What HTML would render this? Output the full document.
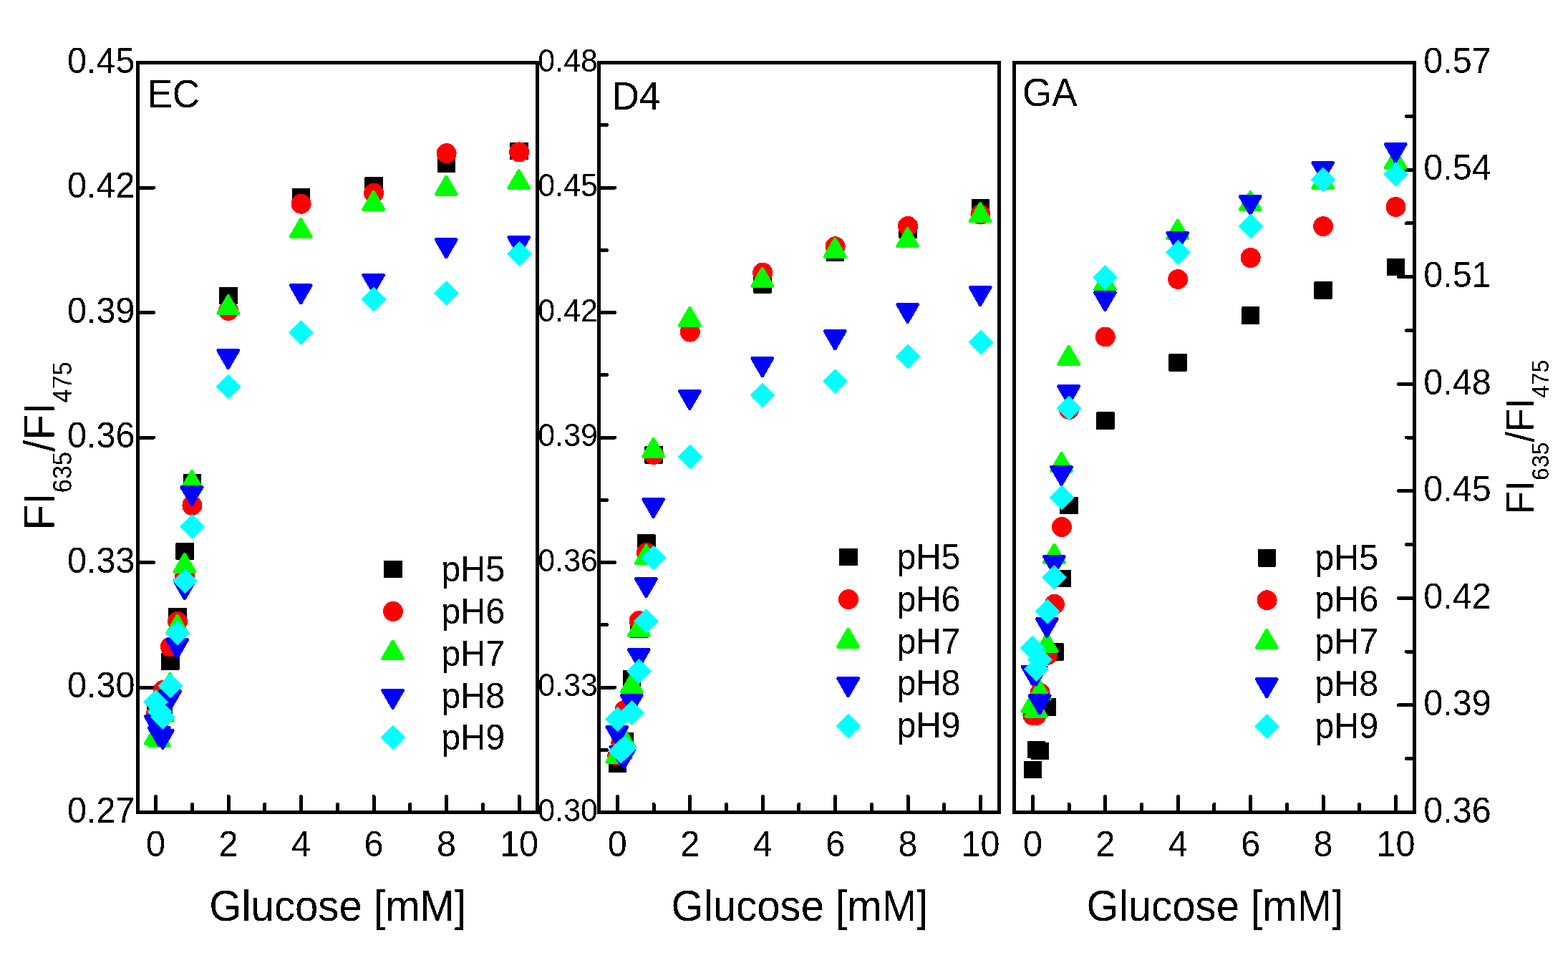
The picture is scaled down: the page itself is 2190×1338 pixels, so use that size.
<!DOCTYPE html><html><head><meta charset="utf-8"><title>Glucose response EC D4 GA</title>
<style>html,body{margin:0;padding:0;background:#fff;}svg{display:block;}text{font-family:'Liberation Sans', Arial, sans-serif;fill:#000;}</style></head><body>
<svg width="2190" height="1338" viewBox="0 0 2190 1338" shape-rendering="crispEdges">
<rect width="2190" height="1338" fill="#fff"/>
<g><path d="M217.6 1134.5V1112.5M268.35 1134.5V1123.5M319.1 1134.5V1112.5M369.85 1134.5V1123.5M420.6 1134.5V1112.5M471.35 1134.5V1123.5M522.1 1134.5V1112.5M572.85 1134.5V1123.5M623.6 1134.5V1112.5M674.35 1134.5V1123.5M725.1 1134.5V1112.5M192.5 1134.5H214.5M192.5 960H214.5M192.5 785.5H214.5M192.5 611H214.5M192.5 436.5H214.5M192.5 262H214.5M192.5 87.5H214.5" stroke="#000" stroke-width="5" stroke-linecap="round" fill="none"/><rect x="192.5" y="87.5" width="558" height="1047" fill="none" stroke="#000" stroke-width="5"/><rect x="204.8" y="984.8" width="25.6" height="24.4" rx="1.2" fill="#000000"/><rect x="209.87" y="982.8" width="25.6" height="24.4" rx="1.2" fill="#000000"/><rect x="214.95" y="977.8" width="25.6" height="24.4" rx="1.2" fill="#000000"/><rect x="225.1" y="911.5" width="25.6" height="24.4" rx="1.2" fill="#000000"/><rect x="235.25" y="848.8" width="25.6" height="24.4" rx="1.2" fill="#000000"/><rect x="245.4" y="757.8" width="25.6" height="24.4" rx="1.2" fill="#000000"/><rect x="255.55" y="661.8" width="25.6" height="24.4" rx="1.2" fill="#000000"/><rect x="306.3" y="400.8" width="25.6" height="24.4" rx="1.2" fill="#000000"/><rect x="407.8" y="262.6" width="25.6" height="24.4" rx="1.2" fill="#000000"/><rect x="509.3" y="247.1" width="25.6" height="24.4" rx="1.2" fill="#000000"/><rect x="610.8" y="216.4" width="25.6" height="24.4" rx="1.2" fill="#000000"/><rect x="712.3" y="198.8" width="25.6" height="24.4" rx="1.2" fill="#000000"/><circle cx="217.6" cy="998" r="14" fill="#ff0000"/><circle cx="222.67" cy="1006" r="14" fill="#ff0000"/><circle cx="227.75" cy="964" r="14" fill="#ff0000"/><circle cx="237.9" cy="903.5" r="14" fill="#ff0000"/><circle cx="248.05" cy="867.9" r="14" fill="#ff0000"/><circle cx="258.2" cy="805" r="14" fill="#ff0000"/><circle cx="268.35" cy="705.9" r="14" fill="#ff0000"/><circle cx="319.1" cy="433.8" r="14" fill="#ff0000"/><circle cx="420.6" cy="284.7" r="14" fill="#ff0000"/><circle cx="522.1" cy="269.6" r="14" fill="#ff0000"/><circle cx="623.6" cy="214.2" r="14" fill="#ff0000"/><circle cx="725.1" cy="212.4" r="14" fill="#ff0000"/><polygon points="217.2,1012.9 232.44,1039.3 201.96,1039.3" fill="#00ff00" stroke="#00ff00" stroke-width="3.2" stroke-linejoin="bevel"/><polygon points="222.27,1015.9 237.52,1042.3 207.03,1042.3" fill="#00ff00" stroke="#00ff00" stroke-width="3.2" stroke-linejoin="bevel"/><polygon points="227.35,980.9 242.59,1007.3 212.11,1007.3" fill="#00ff00" stroke="#00ff00" stroke-width="3.2" stroke-linejoin="bevel"/><polygon points="237.5,939.8 252.74,966.2 222.26,966.2" fill="#00ff00" stroke="#00ff00" stroke-width="3.2" stroke-linejoin="bevel"/><polygon points="247.65,858.7 262.89,885.1 232.41,885.1" fill="#00ff00" stroke="#00ff00" stroke-width="3.2" stroke-linejoin="bevel"/><polygon points="257.8,772.8 273.04,799.2 242.56,799.2" fill="#00ff00" stroke="#00ff00" stroke-width="3.2" stroke-linejoin="bevel"/><polygon points="267.95,657 283.19,683.4 252.71,683.4" fill="#00ff00" stroke="#00ff00" stroke-width="3.2" stroke-linejoin="bevel"/><polygon points="318.7,412.1 333.94,438.5 303.46,438.5" fill="#00ff00" stroke="#00ff00" stroke-width="3.2" stroke-linejoin="bevel"/><polygon points="420.2,304.8 435.44,331.2 404.96,331.2" fill="#00ff00" stroke="#00ff00" stroke-width="3.2" stroke-linejoin="bevel"/><polygon points="521.7,266.7 536.94,293.1 506.46,293.1" fill="#00ff00" stroke="#00ff00" stroke-width="3.2" stroke-linejoin="bevel"/><polygon points="623.2,245.6 638.44,272 607.96,272" fill="#00ff00" stroke="#00ff00" stroke-width="3.2" stroke-linejoin="bevel"/><polygon points="724.7,237 739.94,263.4 709.46,263.4" fill="#00ff00" stroke="#00ff00" stroke-width="3.2" stroke-linejoin="bevel"/><polygon points="217.2,1026.25 232.44,999.85 201.96,999.85" fill="#0000ff" stroke="#0000ff" stroke-width="3.2" stroke-linejoin="bevel"/><polygon points="222.27,1042.15 237.52,1015.75 207.03,1015.75" fill="#0000ff" stroke="#0000ff" stroke-width="3.2" stroke-linejoin="bevel"/><polygon points="227.35,1045.95 242.59,1019.55 212.11,1019.55" fill="#0000ff" stroke="#0000ff" stroke-width="3.2" stroke-linejoin="bevel"/><polygon points="237.5,991.45 252.74,965.05 222.26,965.05" fill="#0000ff" stroke="#0000ff" stroke-width="3.2" stroke-linejoin="bevel"/><polygon points="247.65,919.25 262.89,892.85 232.41,892.85" fill="#0000ff" stroke="#0000ff" stroke-width="3.2" stroke-linejoin="bevel"/><polygon points="257.8,837.25 273.04,810.85 242.56,810.85" fill="#0000ff" stroke="#0000ff" stroke-width="3.2" stroke-linejoin="bevel"/><polygon points="267.95,706.15 283.19,679.75 252.71,679.75" fill="#0000ff" stroke="#0000ff" stroke-width="3.2" stroke-linejoin="bevel"/><polygon points="318.7,515.25 333.94,488.85 303.46,488.85" fill="#0000ff" stroke="#0000ff" stroke-width="3.2" stroke-linejoin="bevel"/><polygon points="420.2,424.45 435.44,398.05 404.96,398.05" fill="#0000ff" stroke="#0000ff" stroke-width="3.2" stroke-linejoin="bevel"/><polygon points="521.7,409.75 536.94,383.35 506.46,383.35" fill="#0000ff" stroke="#0000ff" stroke-width="3.2" stroke-linejoin="bevel"/><polygon points="623.2,360.45 638.44,334.05 607.96,334.05" fill="#0000ff" stroke="#0000ff" stroke-width="3.2" stroke-linejoin="bevel"/><polygon points="724.7,357.15 739.94,330.75 709.46,330.75" fill="#0000ff" stroke="#0000ff" stroke-width="3.2" stroke-linejoin="bevel"/><polygon points="217.6,962.7 235.1,980.2 217.6,997.7 200.1,980.2" fill="#00ffff"/><polygon points="222.67,976.5 240.17,994 222.67,1011.5 205.17,994" fill="#00ffff"/><polygon points="227.75,984 245.25,1001.5 227.75,1019 210.25,1001.5" fill="#00ffff"/><polygon points="237.9,940.9 255.4,958.4 237.9,975.9 220.4,958.4" fill="#00ffff"/><polygon points="248.05,866.4 265.55,883.9 248.05,901.4 230.55,883.9" fill="#00ffff"/><polygon points="258.2,794.1 275.7,811.6 258.2,829.1 240.7,811.6" fill="#00ffff"/><polygon points="268.35,718 285.85,735.5 268.35,753 250.85,735.5" fill="#00ffff"/><polygon points="319.1,522.2 336.6,539.7 319.1,557.2 301.6,539.7" fill="#00ffff"/><polygon points="420.6,446.8 438.1,464.3 420.6,481.8 403.1,464.3" fill="#00ffff"/><polygon points="522.1,400.4 539.6,417.9 522.1,435.4 504.6,417.9" fill="#00ffff"/><polygon points="623.6,392 641.1,409.5 623.6,427 606.1,409.5" fill="#00ffff"/><polygon points="725.1,337.1 742.6,354.6 725.1,372.1 707.6,354.6" fill="#00ffff"/></g>
<g><path d="M862.3 1134.5V1112.5M913.02 1134.5V1123.5M963.74 1134.5V1112.5M1014.46 1134.5V1123.5M1065.18 1134.5V1112.5M1115.9 1134.5V1123.5M1166.62 1134.5V1112.5M1217.34 1134.5V1123.5M1268.06 1134.5V1112.5M1318.78 1134.5V1123.5M1369.5 1134.5V1112.5M836.5 1134.5H858.5M836.5 1047.25H847.5M836.5 960H858.5M836.5 872.75H847.5M836.5 785.5H858.5M836.5 698.25H847.5M836.5 611H858.5M836.5 523.75H847.5M836.5 436.5H858.5M836.5 349.25H847.5M836.5 262H858.5M836.5 174.75H847.5M836.5 87.5H858.5" stroke="#000" stroke-width="5" stroke-linecap="round" fill="none"/><rect x="836.5" y="87.5" width="559" height="1047" fill="none" stroke="#000" stroke-width="5"/><rect x="849.5" y="1054.4" width="25.6" height="24.4" rx="1.2" fill="#000000"/><rect x="854.57" y="1029.8" width="25.6" height="24.4" rx="1.2" fill="#000000"/><rect x="859.64" y="1023" width="25.6" height="24.4" rx="1.2" fill="#000000"/><rect x="869.79" y="935.5" width="25.6" height="24.4" rx="1.2" fill="#000000"/><rect x="879.93" y="866.5" width="25.6" height="24.4" rx="1.2" fill="#000000"/><rect x="890.08" y="745.8" width="25.6" height="24.4" rx="1.2" fill="#000000"/><rect x="900.22" y="623.2" width="25.6" height="24.4" rx="1.2" fill="#000000"/><rect x="1052.38" y="385.3" width="25.6" height="24.4" rx="1.2" fill="#000000"/><rect x="1153.82" y="340.4" width="25.6" height="24.4" rx="1.2" fill="#000000"/><rect x="1255.26" y="308.4" width="25.6" height="24.4" rx="1.2" fill="#000000"/><rect x="1356.7" y="277.7" width="25.6" height="24.4" rx="1.2" fill="#000000"/><circle cx="862.3" cy="1055.5" r="14" fill="#ff0000"/><circle cx="867.37" cy="1037" r="14" fill="#ff0000"/><circle cx="872.44" cy="991.7" r="14" fill="#ff0000"/><circle cx="892.73" cy="867" r="14" fill="#ff0000"/><circle cx="902.88" cy="772" r="14" fill="#ff0000"/><circle cx="913.02" cy="634.8" r="14" fill="#ff0000"/><circle cx="963.74" cy="463.6" r="14" fill="#ff0000"/><circle cx="1065.18" cy="380.7" r="14" fill="#ff0000"/><circle cx="1166.62" cy="344.3" r="14" fill="#ff0000"/><circle cx="1268.06" cy="315.9" r="14" fill="#ff0000"/><circle cx="1369.5" cy="299.5" r="14" fill="#ff0000"/><polygon points="861.9,1038.7 877.14,1065.1 846.66,1065.1" fill="#00ff00" stroke="#00ff00" stroke-width="3.2" stroke-linejoin="bevel"/><polygon points="866.97,1032.9 882.21,1059.3 851.73,1059.3" fill="#00ff00" stroke="#00ff00" stroke-width="3.2" stroke-linejoin="bevel"/><polygon points="872.04,1017.7 887.29,1044.1 856.8,1044.1" fill="#00ff00" stroke="#00ff00" stroke-width="3.2" stroke-linejoin="bevel"/><polygon points="882.19,940.8 897.43,967.2 866.95,967.2" fill="#00ff00" stroke="#00ff00" stroke-width="3.2" stroke-linejoin="bevel"/><polygon points="892.33,861.8 907.57,888.2 877.09,888.2" fill="#00ff00" stroke="#00ff00" stroke-width="3.2" stroke-linejoin="bevel"/><polygon points="902.48,760.9 917.72,787.3 887.23,787.3" fill="#00ff00" stroke="#00ff00" stroke-width="3.2" stroke-linejoin="bevel"/><polygon points="912.62,611.7 927.86,638.1 897.38,638.1" fill="#00ff00" stroke="#00ff00" stroke-width="3.2" stroke-linejoin="bevel"/><polygon points="963.34,428.8 978.58,455.2 948.1,455.2" fill="#00ff00" stroke="#00ff00" stroke-width="3.2" stroke-linejoin="bevel"/><polygon points="1064.78,373.8 1080.02,400.2 1049.54,400.2" fill="#00ff00" stroke="#00ff00" stroke-width="3.2" stroke-linejoin="bevel"/><polygon points="1166.22,332.5 1181.46,358.9 1150.98,358.9" fill="#00ff00" stroke="#00ff00" stroke-width="3.2" stroke-linejoin="bevel"/><polygon points="1267.66,318.2 1282.9,344.6 1252.42,344.6" fill="#00ff00" stroke="#00ff00" stroke-width="3.2" stroke-linejoin="bevel"/><polygon points="1369.1,283.2 1384.34,309.6 1353.86,309.6" fill="#00ff00" stroke="#00ff00" stroke-width="3.2" stroke-linejoin="bevel"/><polygon points="861.9,1041.05 877.14,1014.65 846.66,1014.65" fill="#0000ff" stroke="#0000ff" stroke-width="3.2" stroke-linejoin="bevel"/><polygon points="866.97,1068.95 882.21,1042.55 851.73,1042.55" fill="#0000ff" stroke="#0000ff" stroke-width="3.2" stroke-linejoin="bevel"/><polygon points="872.04,1072.75 887.29,1046.35 856.8,1046.35" fill="#0000ff" stroke="#0000ff" stroke-width="3.2" stroke-linejoin="bevel"/><polygon points="882.19,996.85 897.43,970.45 866.95,970.45" fill="#0000ff" stroke="#0000ff" stroke-width="3.2" stroke-linejoin="bevel"/><polygon points="892.33,933.05 907.57,906.65 877.09,906.65" fill="#0000ff" stroke="#0000ff" stroke-width="3.2" stroke-linejoin="bevel"/><polygon points="902.48,834.25 917.72,807.85 887.23,807.85" fill="#0000ff" stroke="#0000ff" stroke-width="3.2" stroke-linejoin="bevel"/><polygon points="912.62,723.05 927.86,696.65 897.38,696.65" fill="#0000ff" stroke="#0000ff" stroke-width="3.2" stroke-linejoin="bevel"/><polygon points="963.34,571.95 978.58,545.55 948.1,545.55" fill="#0000ff" stroke="#0000ff" stroke-width="3.2" stroke-linejoin="bevel"/><polygon points="1064.78,526.35 1080.02,499.95 1049.54,499.95" fill="#0000ff" stroke="#0000ff" stroke-width="3.2" stroke-linejoin="bevel"/><polygon points="1166.22,488.35 1181.46,461.95 1150.98,461.95" fill="#0000ff" stroke="#0000ff" stroke-width="3.2" stroke-linejoin="bevel"/><polygon points="1267.66,450.95 1282.9,424.55 1252.42,424.55" fill="#0000ff" stroke="#0000ff" stroke-width="3.2" stroke-linejoin="bevel"/><polygon points="1369.1,427.05 1384.34,400.65 1353.86,400.65" fill="#0000ff" stroke="#0000ff" stroke-width="3.2" stroke-linejoin="bevel"/><polygon points="862.3,987.1 879.8,1004.6 862.3,1022.1 844.8,1004.6" fill="#00ffff"/><polygon points="867.37,1031.6 884.87,1049.1 867.37,1066.6 849.87,1049.1" fill="#00ffff"/><polygon points="872.44,1026.9 889.94,1044.4 872.44,1061.9 854.94,1044.4" fill="#00ffff"/><polygon points="882.59,978 900.09,995.5 882.59,1013 865.09,995.5" fill="#00ffff"/><polygon points="892.73,919.9 910.23,937.4 892.73,954.9 875.23,937.4" fill="#00ffff"/><polygon points="902.88,849.9 920.38,867.4 902.88,884.9 885.38,867.4" fill="#00ffff"/><polygon points="913.02,761.4 930.52,778.9 913.02,796.4 895.52,778.9" fill="#00ffff"/><polygon points="963.74,620.5 981.24,638 963.74,655.5 946.24,638" fill="#00ffff"/><polygon points="1065.18,534.7 1082.68,552.2 1065.18,569.7 1047.68,552.2" fill="#00ffff"/><polygon points="1166.62,515 1184.12,532.5 1166.62,550 1149.12,532.5" fill="#00ffff"/><polygon points="1268.06,480.9 1285.56,498.4 1268.06,515.9 1250.56,498.4" fill="#00ffff"/><polygon points="1369.5,460.5 1387,478 1369.5,495.5 1352,478" fill="#00ffff"/></g>
<g><path d="M1442.4 1134.5V1112.5M1493.11 1134.5V1123.5M1543.82 1134.5V1112.5M1594.53 1134.5V1123.5M1645.24 1134.5V1112.5M1695.95 1134.5V1123.5M1746.66 1134.5V1112.5M1797.37 1134.5V1123.5M1848.08 1134.5V1112.5M1898.79 1134.5V1123.5M1949.5 1134.5V1112.5M1975.5 1134.5H1953.5M1975.5 1059.71H1964.5M1975.5 984.93H1953.5M1975.5 910.14H1964.5M1975.5 835.36H1953.5M1975.5 760.57H1964.5M1975.5 685.79H1953.5M1975.5 611H1964.5M1975.5 536.21H1953.5M1975.5 461.43H1964.5M1975.5 386.64H1953.5M1975.5 311.86H1964.5M1975.5 237.07H1953.5M1975.5 162.29H1964.5M1975.5 87.5H1953.5" stroke="#000" stroke-width="5" stroke-linecap="round" fill="none"/><rect x="1416.5" y="87.5" width="559" height="1047" fill="none" stroke="#000" stroke-width="5"/><rect x="1429.6" y="1062.5" width="25.6" height="24.4" rx="1.2" fill="#000000"/><rect x="1434.67" y="1035" width="25.6" height="24.4" rx="1.2" fill="#000000"/><rect x="1439.74" y="1036.6" width="25.6" height="24.4" rx="1.2" fill="#000000"/><rect x="1449.88" y="975.2" width="25.6" height="24.4" rx="1.2" fill="#000000"/><rect x="1460.03" y="898.3" width="25.6" height="24.4" rx="1.2" fill="#000000"/><rect x="1470.17" y="795.8" width="25.6" height="24.4" rx="1.2" fill="#000000"/><rect x="1480.31" y="693.8" width="25.6" height="24.4" rx="1.2" fill="#000000"/><rect x="1531.02" y="575.4" width="25.6" height="24.4" rx="1.2" fill="#000000"/><rect x="1632.44" y="494.2" width="25.6" height="24.4" rx="1.2" fill="#000000"/><rect x="1733.86" y="428.4" width="25.6" height="24.4" rx="1.2" fill="#000000"/><rect x="1835.28" y="393.1" width="25.6" height="24.4" rx="1.2" fill="#000000"/><rect x="1936.7" y="361" width="25.6" height="24.4" rx="1.2" fill="#000000"/><circle cx="1442.4" cy="999" r="14" fill="#ff0000"/><circle cx="1447.47" cy="999" r="14" fill="#ff0000"/><circle cx="1452.54" cy="967.7" r="14" fill="#ff0000"/><circle cx="1462.68" cy="915" r="14" fill="#ff0000"/><circle cx="1472.83" cy="843.8" r="14" fill="#ff0000"/><circle cx="1482.97" cy="736" r="14" fill="#ff0000"/><circle cx="1493.11" cy="572" r="14" fill="#ff0000"/><circle cx="1543.82" cy="470.5" r="14" fill="#ff0000"/><circle cx="1645.24" cy="390" r="14" fill="#ff0000"/><circle cx="1746.66" cy="360" r="14" fill="#ff0000"/><circle cx="1848.08" cy="316.1" r="14" fill="#ff0000"/><circle cx="1949.5" cy="289" r="14" fill="#ff0000"/><polygon points="1442,967.7 1457.24,994.1 1426.76,994.1" fill="#00ff00" stroke="#00ff00" stroke-width="3.2" stroke-linejoin="bevel"/><polygon points="1447.07,974.9 1462.31,1001.3 1431.83,1001.3" fill="#00ff00" stroke="#00ff00" stroke-width="3.2" stroke-linejoin="bevel"/><polygon points="1452.14,950.3 1467.38,976.7 1436.9,976.7" fill="#00ff00" stroke="#00ff00" stroke-width="3.2" stroke-linejoin="bevel"/><polygon points="1462.28,884 1477.53,910.4 1447.04,910.4" fill="#00ff00" stroke="#00ff00" stroke-width="3.2" stroke-linejoin="bevel"/><polygon points="1472.43,759.6 1487.67,786 1457.18,786" fill="#00ff00" stroke="#00ff00" stroke-width="3.2" stroke-linejoin="bevel"/><polygon points="1482.57,631.7 1497.81,658.1 1467.33,658.1" fill="#00ff00" stroke="#00ff00" stroke-width="3.2" stroke-linejoin="bevel"/><polygon points="1492.71,482.7 1507.95,509.1 1477.47,509.1" fill="#00ff00" stroke="#00ff00" stroke-width="3.2" stroke-linejoin="bevel"/><polygon points="1543.42,378.4 1558.66,404.8 1528.18,404.8" fill="#00ff00" stroke="#00ff00" stroke-width="3.2" stroke-linejoin="bevel"/><polygon points="1644.84,306.7 1660.08,333.1 1629.6,333.1" fill="#00ff00" stroke="#00ff00" stroke-width="3.2" stroke-linejoin="bevel"/><polygon points="1746.26,267 1761.5,293.4 1731.02,293.4" fill="#00ff00" stroke="#00ff00" stroke-width="3.2" stroke-linejoin="bevel"/><polygon points="1847.68,237 1862.92,263.4 1832.44,263.4" fill="#00ff00" stroke="#00ff00" stroke-width="3.2" stroke-linejoin="bevel"/><polygon points="1949.1,208.7 1964.34,235.1 1933.86,235.1" fill="#00ff00" stroke="#00ff00" stroke-width="3.2" stroke-linejoin="bevel"/><polygon points="1442,956.75 1457.24,930.35 1426.76,930.35" fill="#0000ff" stroke="#0000ff" stroke-width="3.2" stroke-linejoin="bevel"/><polygon points="1447.07,957.25 1462.31,930.85 1431.83,930.85" fill="#0000ff" stroke="#0000ff" stroke-width="3.2" stroke-linejoin="bevel"/><polygon points="1452.14,997.45 1467.38,971.05 1436.9,971.05" fill="#0000ff" stroke="#0000ff" stroke-width="3.2" stroke-linejoin="bevel"/><polygon points="1462.28,890.05 1477.53,863.65 1447.04,863.65" fill="#0000ff" stroke="#0000ff" stroke-width="3.2" stroke-linejoin="bevel"/><polygon points="1472.43,803.05 1487.67,776.65 1457.18,776.65" fill="#0000ff" stroke="#0000ff" stroke-width="3.2" stroke-linejoin="bevel"/><polygon points="1482.57,678.05 1497.81,651.65 1467.33,651.65" fill="#0000ff" stroke="#0000ff" stroke-width="3.2" stroke-linejoin="bevel"/><polygon points="1492.71,565.45 1507.95,539.05 1477.47,539.05" fill="#0000ff" stroke="#0000ff" stroke-width="3.2" stroke-linejoin="bevel"/><polygon points="1543.42,434.25 1558.66,407.85 1528.18,407.85" fill="#0000ff" stroke="#0000ff" stroke-width="3.2" stroke-linejoin="bevel"/><polygon points="1644.84,351.05 1660.08,324.65 1629.6,324.65" fill="#0000ff" stroke="#0000ff" stroke-width="3.2" stroke-linejoin="bevel"/><polygon points="1746.26,300.05 1761.5,273.65 1731.02,273.65" fill="#0000ff" stroke="#0000ff" stroke-width="3.2" stroke-linejoin="bevel"/><polygon points="1847.68,253.05 1862.92,226.65 1832.44,226.65" fill="#0000ff" stroke="#0000ff" stroke-width="3.2" stroke-linejoin="bevel"/><polygon points="1949.1,227.05 1964.34,200.65 1933.86,200.65" fill="#0000ff" stroke="#0000ff" stroke-width="3.2" stroke-linejoin="bevel"/><polygon points="1442.4,887.5 1459.9,905 1442.4,922.5 1424.9,905" fill="#00ffff"/><polygon points="1447.47,917 1464.97,934.5 1447.47,952 1429.97,934.5" fill="#00ffff"/><polygon points="1452.54,904.2 1470.04,921.7 1452.54,939.2 1435.04,921.7" fill="#00ffff"/><polygon points="1462.68,836.5 1480.18,854 1462.68,871.5 1445.18,854" fill="#00ffff"/><polygon points="1472.83,788.9 1490.33,806.4 1472.83,823.9 1455.33,806.4" fill="#00ffff"/><polygon points="1482.97,677.1 1500.47,694.6 1482.97,712.1 1465.47,694.6" fill="#00ffff"/><polygon points="1493.11,552.5 1510.61,570 1493.11,587.5 1475.61,570" fill="#00ffff"/><polygon points="1543.82,370 1561.32,387.5 1543.82,405 1526.32,387.5" fill="#00ffff"/><polygon points="1645.24,334.8 1662.74,352.3 1645.24,369.8 1627.74,352.3" fill="#00ffff"/><polygon points="1746.66,298.6 1764.16,316.1 1746.66,333.6 1729.16,316.1" fill="#00ffff"/><polygon points="1848.08,233.7 1865.58,251.2 1848.08,268.7 1830.58,251.2" fill="#00ffff"/><polygon points="1949.5,226 1967,243.5 1949.5,261 1932,243.5" fill="#00ffff"/></g>
<g><rect x="536.2" y="782.7" width="25.6" height="24.4" rx="1.2" fill="#000000"/><circle cx="549" cy="853.75" r="14" fill="#ff0000"/><polygon points="548.6,894.3 563.84,920.7 533.36,920.7" fill="#00ff00" stroke="#00ff00" stroke-width="3.2" stroke-linejoin="bevel"/><polygon points="548.6,989.9 563.84,963.5 533.36,963.5" fill="#0000ff" stroke="#0000ff" stroke-width="3.2" stroke-linejoin="bevel"/><polygon points="549,1012.8 566.5,1030.3 549,1047.8 531.5,1030.3" fill="#00ffff"/></g>
<g><rect x="1172.2" y="766" width="25.6" height="24.4" rx="1.2" fill="#000000"/><circle cx="1185" cy="837.05" r="14" fill="#ff0000"/><polygon points="1184.6,877.6 1199.84,904 1169.36,904" fill="#00ff00" stroke="#00ff00" stroke-width="3.2" stroke-linejoin="bevel"/><polygon points="1184.6,973.2 1199.84,946.8 1169.36,946.8" fill="#0000ff" stroke="#0000ff" stroke-width="3.2" stroke-linejoin="bevel"/><polygon points="1185,996.1 1202.5,1013.6 1185,1031.1 1167.5,1013.6" fill="#00ffff"/></g>
<g><rect x="1756.8" y="767.2" width="25.6" height="24.4" rx="1.2" fill="#000000"/><circle cx="1769.6" cy="838.25" r="14" fill="#ff0000"/><polygon points="1769.2,878.8 1784.44,905.2 1753.96,905.2" fill="#00ff00" stroke="#00ff00" stroke-width="3.2" stroke-linejoin="bevel"/><polygon points="1769.2,974.4 1784.44,948 1753.96,948" fill="#0000ff" stroke="#0000ff" stroke-width="3.2" stroke-linejoin="bevel"/><polygon points="1769.6,997.3 1787.1,1014.8 1769.6,1032.3 1752.1,1014.8" fill="#00ffff"/></g>
<defs><filter id="bin" filterUnits="userSpaceOnUse" x="0" y="0" width="2190" height="1338"><feComponentTransfer><feFuncA type="discrete" tableValues="0 1"/></feComponentTransfer></filter></defs>
<g filter="url(#bin)"><text transform="translate(217.6 1195.5) scale(1 1.04)" font-size="48.5" text-anchor="middle">0</text><text transform="translate(319.1 1195.5) scale(1 1.04)" font-size="48.5" text-anchor="middle">2</text><text transform="translate(420.6 1195.5) scale(1 1.04)" font-size="48.5" text-anchor="middle">4</text><text transform="translate(522.1 1195.5) scale(1 1.04)" font-size="48.5" text-anchor="middle">6</text><text transform="translate(623.6 1195.5) scale(1 1.04)" font-size="48.5" text-anchor="middle">8</text><text transform="translate(725.1 1195.5) scale(1 1.04)" font-size="48.5" text-anchor="middle">10</text><text transform="translate(188.4 1148.8) scale(1 1.04)" font-size="48.5" text-anchor="end">0.27</text><text transform="translate(188.4 974.3) scale(1 1.04)" font-size="48.5" text-anchor="end">0.30</text><text transform="translate(188.4 799.8) scale(1 1.04)" font-size="48.5" text-anchor="end">0.33</text><text transform="translate(188.4 625.3) scale(1 1.04)" font-size="48.5" text-anchor="end">0.36</text><text transform="translate(188.4 450.8) scale(1 1.04)" font-size="48.5" text-anchor="end">0.39</text><text transform="translate(188.4 276.3) scale(1 1.04)" font-size="48.5" text-anchor="end">0.42</text><text transform="translate(188.4 101.8) scale(1 1.04)" font-size="48.5" text-anchor="end">0.45</text><text transform="translate(205.5 150.3) scale(1 1.04)" font-size="53">EC</text><text transform="translate(471.8 1286) scale(1 1.04)" font-size="58.2" text-anchor="middle">Glucose [mM]</text><text transform="translate(862.3 1195.5) scale(1 1.04)" font-size="48.5" text-anchor="middle">0</text><text transform="translate(963.74 1195.5) scale(1 1.04)" font-size="48.5" text-anchor="middle">2</text><text transform="translate(1065.18 1195.5) scale(1 1.04)" font-size="48.5" text-anchor="middle">4</text><text transform="translate(1166.62 1195.5) scale(1 1.04)" font-size="48.5" text-anchor="middle">6</text><text transform="translate(1268.06 1195.5) scale(1 1.04)" font-size="48.5" text-anchor="middle">8</text><text transform="translate(1369.5 1195.5) scale(1 1.04)" font-size="48.5" text-anchor="middle">10</text><text transform="translate(835 1146.9) scale(1 1.04)" font-size="43" text-anchor="end">0.30</text><text transform="translate(835 972.4) scale(1 1.04)" font-size="43" text-anchor="end">0.33</text><text transform="translate(835 797.9) scale(1 1.04)" font-size="43" text-anchor="end">0.36</text><text transform="translate(835 623.4) scale(1 1.04)" font-size="43" text-anchor="end">0.39</text><text transform="translate(835 448.9) scale(1 1.04)" font-size="43" text-anchor="end">0.42</text><text transform="translate(835 274.4) scale(1 1.04)" font-size="43" text-anchor="end">0.45</text><text transform="translate(835 99.9) scale(1 1.04)" font-size="43" text-anchor="end">0.48</text><text transform="translate(854.5 152.8) scale(1 1.04)" font-size="53">D4</text><text transform="translate(1117 1286) scale(1 1.04)" font-size="58.2" text-anchor="middle">Glucose [mM]</text><text transform="translate(1442.4 1195.5) scale(1 1.04)" font-size="48.5" text-anchor="middle">0</text><text transform="translate(1543.82 1195.5) scale(1 1.04)" font-size="48.5" text-anchor="middle">2</text><text transform="translate(1645.24 1195.5) scale(1 1.04)" font-size="48.5" text-anchor="middle">4</text><text transform="translate(1746.66 1195.5) scale(1 1.04)" font-size="48.5" text-anchor="middle">6</text><text transform="translate(1848.08 1195.5) scale(1 1.04)" font-size="48.5" text-anchor="middle">8</text><text transform="translate(1949.5 1195.5) scale(1 1.04)" font-size="48.5" text-anchor="middle">10</text><text transform="translate(1988.3 1148.9) scale(1 1.04)" font-size="48.5">0.36</text><text transform="translate(1988.3 999.33) scale(1 1.04)" font-size="48.5">0.39</text><text transform="translate(1988.3 849.76) scale(1 1.04)" font-size="48.5">0.42</text><text transform="translate(1988.3 700.19) scale(1 1.04)" font-size="48.5">0.45</text><text transform="translate(1988.3 550.61) scale(1 1.04)" font-size="48.5">0.48</text><text transform="translate(1988.3 401.04) scale(1 1.04)" font-size="48.5">0.51</text><text transform="translate(1988.3 251.47) scale(1 1.04)" font-size="48.5">0.54</text><text transform="translate(1988.3 101.9) scale(1 1.04)" font-size="48.5">0.57</text><text transform="translate(1428 147.6) scale(1 1.04)" font-size="53">GA</text><text transform="translate(1697 1286) scale(1 1.04)" font-size="58.2" text-anchor="middle">Glucose [mM]</text><text transform="translate(616.2 812) scale(1 1.04)" font-size="48.5">pH5</text><text transform="translate(616.2 870.85) scale(1 1.04)" font-size="48.5">pH6</text><text transform="translate(616.2 929.7) scale(1 1.04)" font-size="48.5">pH7</text><text transform="translate(616.2 988.55) scale(1 1.04)" font-size="48.5">pH8</text><text transform="translate(616.2 1047.4) scale(1 1.04)" font-size="48.5">pH9</text><text transform="translate(1252.5 794.9) scale(1 1.04)" font-size="48.5">pH5</text><text transform="translate(1252.5 853.75) scale(1 1.04)" font-size="48.5">pH6</text><text transform="translate(1252.5 912.6) scale(1 1.04)" font-size="48.5">pH7</text><text transform="translate(1252.5 971.45) scale(1 1.04)" font-size="48.5">pH8</text><text transform="translate(1252.5 1030.3) scale(1 1.04)" font-size="48.5">pH9</text><text transform="translate(1836.3 795.6) scale(1 1.04)" font-size="48.5">pH5</text><text transform="translate(1836.3 854.45) scale(1 1.04)" font-size="48.5">pH6</text><text transform="translate(1836.3 913.3) scale(1 1.04)" font-size="48.5">pH7</text><text transform="translate(1836.3 972.15) scale(1 1.04)" font-size="48.5">pH8</text><text transform="translate(1836.3 1031) scale(1 1.04)" font-size="48.5">pH9</text><text transform="translate(76.1 740.4) rotate(-90) scale(1 1.045)" font-size="58.5">FI<tspan font-size="34.5" dy="22.6">635</tspan><tspan dy="-22.6">/FI</tspan><tspan font-size="34.5" dy="22.6">475</tspan></text><text transform="translate(2142.1 718.2) rotate(-90) scale(1 1.045)" font-size="53">FI<tspan font-size="32" dy="20">635</tspan><tspan dy="-20">/FI</tspan><tspan font-size="32" dy="20">475</tspan></text></g>
</svg></body></html>
